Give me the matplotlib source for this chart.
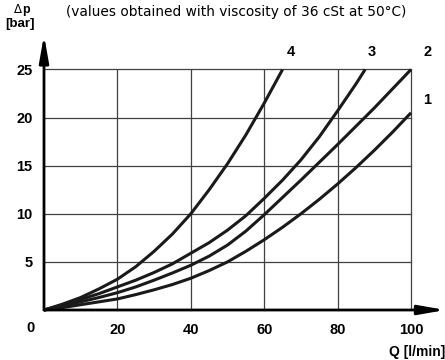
import matplotlib
matplotlib.use('Agg')
import matplotlib.pyplot as plt

# values (Q in l/min, dp in bar)
q1 = [0, 5, 10, 15, 20, 25, 30, 35, 40, 45, 50, 55, 60, 65, 70, 75, 80, 85, 90, 95, 100]
dp1 = [0, 0.25, 0.55, 0.85, 1.15, 1.6, 2.1, 2.65, 3.3, 4.1, 5.0, 6.1, 7.3, 8.6, 10.0, 11.5, 13.1, 14.8, 16.6, 18.5, 20.5]

q2 = [0, 5, 10, 15, 20, 25, 30, 35, 40, 45, 50, 55, 60, 65, 70, 75, 80, 85, 90, 95, 100]
dp2 = [0, 0.4, 0.85, 1.3, 1.8, 2.4, 3.1, 3.85, 4.65, 5.6, 6.75, 8.2, 9.9, 11.7, 13.5, 15.35, 17.2, 19.1, 21.0, 23.0, 25.0]

q3 = [0, 5, 10, 15, 20, 25, 30, 35, 40, 45, 50, 55, 60, 65, 70, 75, 80, 85, 87.5]
dp3 = [0, 0.5, 1.1, 1.7, 2.4, 3.1, 3.9, 4.8, 5.9, 7.0, 8.3, 9.8, 11.6, 13.5, 15.6, 18.0, 20.7, 23.5, 25.0]

q4 = [0, 5, 10, 15, 20, 25, 30, 35, 40, 45, 50, 55, 60, 65]
dp4 = [0, 0.6, 1.3, 2.2, 3.2, 4.5, 6.1, 7.9, 10.0, 12.5, 15.2, 18.2, 21.5, 25.0]

curves = [(q1, dp1), (q2, dp2), (q3, dp3), (q4, dp4)]
curve_names = ['1', '2', '3', '4']
name_pos = [(104.4, 21.8), (104.4, 26.8), (89.4, 26.8), (67.3, 26.8)]

xticks = [20, 40, 60, 80, 100]
yticks = [5, 10, 15, 20, 25]

title = '(values obtained with viscosity of 36 cSt at 50°C)'

fig = plt.figure(figsize=(4.45, 3.6), dpi=100)
ax = fig.add_axes([44 / 445, 50 / 360, 367 / 445, 240.5 / 360])
ax.set_xlim(0, 100)
ax.set_ylim(0, 25)

for s in ax.spines.values():
    s.set_visible(False)

ax.set_xticks(xticks)
ax.set_yticks(yticks)
ax.tick_params(length=0, labelsize=10.5)
ax.tick_params(axis='y', pad=8.3)
ax.tick_params(axis='x', pad=9.2)
for lab in ax.get_xticklabels() + ax.get_yticklabels():
    lab.set_fontweight('bold')
    lab.set_family('Liberation Sans')

ax.grid(True, color='#404040', lw=0.9)
for gl in ax.get_xgridlines() + ax.get_ygridlines():
    gl.set_clip_on(False)

for (q, dp) in curves:
    ax.plot(q, dp, color='#1a1a1a', lw=2.2, clip_on=False, zorder=3,
            solid_capstyle='butt', solid_joinstyle='round')

for name, (x, y) in zip(curve_names, name_pos):
    ax.text(x, y, name, ha='center', va='center', fontsize=10.5, fontweight='bold',
            family='Liberation Sans', clip_on=False)

ax.text(-3.8, -1.87, '0', ha='center', va='center', fontsize=10.5, fontweight='bold',
        family='Liberation Sans', clip_on=False)

# axis arrows
arrow = dict(arrowstyle='-|>,head_length=1.6,head_width=0.28', lw=2, color='black',
             mutation_scale=10, shrinkA=0, shrinkB=0)
ax.annotate('', xy=(109.4, 0), xytext=(0, 0), arrowprops=arrow, annotation_clip=False, zorder=4)
ax.annotate('', xy=(0, 28.6), xytext=(0, 0), arrowprops=arrow, annotation_clip=False, zorder=4)

fig.text(236 / 445, 1 - 12 / 360, title, ha='center', va='center', fontsize=9.9, family='DejaVu Sans')
fig.text(22 / 445, 1 - 9.5 / 360, 'Δ', ha='right', va='center', fontsize=8.5,
         family='DejaVu Sans')
fig.text(22 / 445, 1 - 9.5 / 360, 'p', ha='left', va='center', fontsize=9, fontweight='bold',
         family='Liberation Sans')
fig.text(20 / 445, 1 - 24 / 360, '[bar]', ha='center', va='center', fontsize=9.5, fontweight='bold',
         family='Liberation Sans')
fig.text(445 / 445, 1 - 352 / 360, 'Q [l/min]', ha='right', va='center', fontsize=10,
         fontweight='bold', family='Liberation Sans')

fig.savefig('out.png', dpi=100)
